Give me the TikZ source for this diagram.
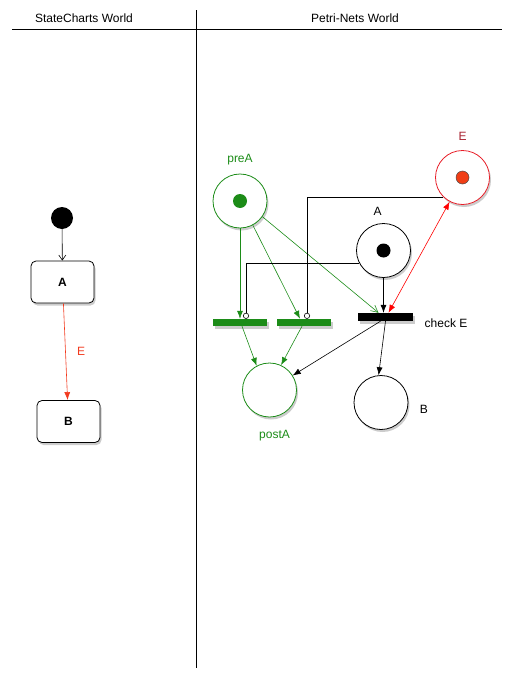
\documentclass[tikz,border=0pt]{standalone}
\usepackage{fontspec}
\setmainfont{Liberation Sans}
\usepackage{xcolor}
\usepackage{tikz}
\usetikzlibrary{arrows.meta,positioning,shadows,calc}
\definecolor{petgreen}{RGB}{28,140,24}
\definecolor{evred}{RGB}{232,30,40}
\definecolor{tokred}{RGB}{240,62,22}
\definecolor{lblred}{RGB}{168,34,48}
\definecolor{trred}{RGB}{242,58,30}
\newcommand{\lbl}[1]{\fontsize{12}{14}\selectfont #1}

\begin{document}
\begin{tikzpicture}[x=1pt,y=-1pt,
    shade/.style={drop shadow={shadow xshift=1.5pt,shadow yshift=-2.5pt,opacity=0.4}},
    place/.style={circle,draw,line width=0.8pt,fill=white,minimum size=54pt,inner sep=0pt,shade},
    token/.style={circle,fill,inner sep=0pt,minimum size=14pt},
    bar/.style={fill,inner sep=0pt,minimum width=54pt,minimum height=7pt,shade},
    state/.style={draw,line width=0.8pt,fill=white,rounded corners=5pt,minimum width=63pt,minimum height=42pt,shade},
    arc/.style={-{Latex[length=8pt,width=6pt]},line width=0.6pt},
    inhib/.style={-{Circle[open,length=6pt,width=6pt]},line width=0.6pt},
    font=\lbl]
  \useasboundingbox (0,0) rectangle (513,680);
  % the two worlds
  \draw[line width=0.6pt] (12,29) -- (502,29);
  \draw[line width=0.6pt] (196,10) -- (196,668);
  \node (scw) at (84,18) {StateCharts World};
  \node (pnw) at (355,18) {Petri-Nets World};

  % statechart
  \node[circle,fill=black,minimum size=22pt,inner sep=0pt] (init) at (62,218) {};
  \node[state] (stA) at (62.5,282) {\textbf{A}};
  \node[state] (stB) at (68.5,421.5) {\textbf{B}};
  \draw[-{Straight Barb[length=5pt,width=7pt]},line width=0.6pt] (init) -- (stA);
  \draw[arc,trred] (stA) -- node[right=8pt,text=trred] {E} (stB);

  % petri net
  \node[place,draw=petgreen] (preA) at (240,201) {};
  \node[token,petgreen] at (preA) {};
  \node[petgreen,above=5pt of preA] {preA};
  \node[place,draw=evred] (pE) at (462.5,177.5) {};
  \node[token,fill=tokred,draw=black!70,line width=0.5pt,minimum size=13pt] at (pE) {};
  \node[lblred,above=6pt of pE] {E};
  \node[place] (pA) at (383.5,250.5) {};
  \node[token,black] at (pA) {};
  \node[above=4pt of pA,xshift=-6pt] {A};
  \node[place,draw=petgreen] (postA) at (269.5,390) {};
  \node[petgreen,below=9pt of postA,xshift=5pt] {postA};
  \node[place] (pB) at (381,402.5) {};
  \node[right=8pt of pB,yshift=-7pt] {B};

  \node[bar,petgreen] (tr1) at (240,322.5) {};
  \node[bar,petgreen] (tr2) at (304,322.5) {};
  \node[bar,black,minimum width=55pt,minimum height=8pt] (chk) at (385.5,317) {};
  \node[right=8pt of chk,yshift=-6pt] {check E};

  \draw[arc,petgreen] (preA) -- (preA |- tr1.north);
  \draw[arc,petgreen] (preA.-62) -- ([xshift=-4pt]tr2.north);
  \draw[-{Straight Barb[length=7pt,width=7pt]},line width=0.6pt,petgreen] (preA.-35) -- ([xshift=-7pt]chk.north);
  \draw[inhib] (pA.207) -| ([xshift=6pt]tr1.north);
  \draw[inhib] (pE.225) -| ([xshift=3pt]tr2.north);
  \draw[arc] (pA) -- (pA |- chk.north);
  \draw[{Latex[length=8pt,width=6pt]}-{Latex[length=8pt,width=6pt]},line width=0.6pt,red] ([xshift=3pt]chk.north) -- (pE.242);
  \draw[arc,petgreen] ([xshift=2pt]tr1.south) -- (postA.118);
  \draw[arc,petgreen] ([xshift=-2pt]tr2.south) -- (postA.65);
  \draw[arc] ([xshift=-5pt]chk.south) -- (postA.32);
  \draw[arc] (chk.south) -- (pB.95);
\end{tikzpicture}
\end{document}
